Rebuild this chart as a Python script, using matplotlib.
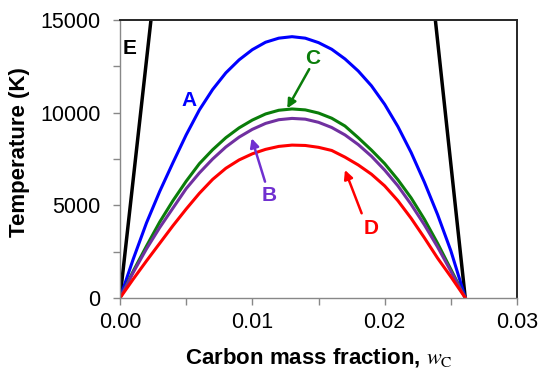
import matplotlib.pyplot as plt
from matplotlib.ticker import MultipleLocator, FormatStrFormatter

plt.rcParams['font.family'] = ['Liberation Sans', 'DejaVu Sans']
plt.rcParams['mathtext.fontset'] = 'stix'

# carbon mass fraction grid
w_grid = [0, 0.001, 0.002, 0.003, 0.004, 0.005, 0.006, 0.007, 0.008, 0.009,
          0.010, 0.011, 0.012, 0.013, 0.014, 0.015, 0.016, 0.017, 0.018,
          0.019, 0.020, 0.021, 0.022, 0.023, 0.024, 0.025, 0.0261]

# curve A (blue)
t_a = [0, 2100, 4050, 5750, 7300, 8800, 10150, 11250, 12150, 12850,
       13400, 13800, 14020, 14100, 14020, 13780, 13420, 12900, 12250,
       11450, 10450, 9250, 7850, 6250, 4500, 2550, 0]

# curve C (green)
t_c = [0, 1450, 2800, 4100, 5250, 6300, 7250, 8000, 8650, 9180,
       9600, 9930, 10130, 10200, 10150, 9980, 9700, 9280, 8650,
       7980, 7250, 6380, 5400, 4250, 2950, 1550, 0]

# curve B (purple)
t_b = [0, 1380, 2650, 3800, 4850, 5900, 6750, 7500, 8150, 8680,
       9100, 9420, 9620, 9690, 9650, 9480, 9200, 8800, 8280,
       7650, 6900, 6050, 5050, 3950, 2750, 1450, 0]

# curve D (red)
t_d = [0, 1020, 2000, 2950, 3900, 4800, 5650, 6400, 7000, 7450,
       7780, 8020, 8180, 8250, 8230, 8130, 7960, 7600, 7180,
       6680, 6050, 5250, 4300, 3250, 2150, 1150, 0]

# E lines (black)
w_e1 = [0, 0.00234]
t_e1 = [0, 15000]
w_e2 = [0.02383, 0.02609]
t_e2 = [15000, 0]

fig = plt.figure(figsize=(5.38, 3.70), dpi=100)
ax = fig.add_axes([120/538, 1-298/370, 397/538, 278/370])

ax.plot(w_e1, t_e1, color='black', lw=2.5)
ax.plot(w_e2, t_e2, color='black', lw=2.5)
ax.plot(w_grid, t_a, color='#0000FF', lw=2.2)
ax.plot(w_grid, t_c, color='#0A7D0A', lw=2.2)
ax.plot(w_grid, t_b, color='#7030A0', lw=2.2)
ax.plot(w_grid, t_d, color='#FF0000', lw=2.2)

ax.set_xlim(0, 0.03)
ax.set_ylim(0, 15000)
ax.xaxis.set_major_locator(MultipleLocator(0.01))
ax.xaxis.set_minor_locator(MultipleLocator(0.005))
ax.xaxis.set_major_formatter(FormatStrFormatter('%.2f'))
ax.yaxis.set_major_locator(MultipleLocator(5000))
ax.yaxis.set_minor_locator(MultipleLocator(2500))

ax.tick_params(which='both', direction='out', length=5, width=1, color='#888888',
               labelsize=15.5)
ax.tick_params(axis='y', pad=9)
ax.tick_params(axis='x', pad=5)
for s in ['left', 'bottom']:
    ax.spines[s].set_color('#888888')
    ax.spines[s].set_linewidth(1)
for s in ['top', 'right']:
    ax.spines[s].set_color('#262626')
    ax.spines[s].set_linewidth(1.4)

# axis titles
fig.text(318.5/538, 1-357.7/370, r'Carbon mass fraction, $w_{\mathrm{C}}$',
         ha='center', va='center', fontsize=16, fontweight='bold')
fig.text(20/538, 1-152/370, 'Temperature (K)', rotation=90,
         ha='center', va='center', fontsize=16, fontweight='bold')

# curve letters and arrows
lab = dict(fontsize=15, fontweight='bold', ha='center', va='center')
ax.text(0.00076, 13460, 'E', color='black', **lab)
ax.text(0.00521, 10640, 'A', color='#0000FF', **lab)

ax.annotate('', xy=(0.01264, 10235), xytext=(0.01430, 12350),
            arrowprops=dict(arrowstyle='-|>', color='#0A7D0A', lw=1.8,
                            mutation_scale=13, shrinkA=0, shrinkB=0))
ax.text(0.01455, 12932, 'C', color='#0A7D0A', **lab)

ax.annotate('', xy=(0.00995, 8617), xytext=(0.01096, 6277),
            arrowprops=dict(arrowstyle='-|>', color='#7030D0', lw=1.8,
                            mutation_scale=13, shrinkA=0, shrinkB=0))
ax.text(0.01126, 5515, 'B', color='#7030D0', **lab)

ax.annotate('', xy=(0.0170, 6907), xytext=(0.01826, 4570),
            arrowprops=dict(arrowstyle='-|>', color='#FF0000', lw=1.8,
                            mutation_scale=13, shrinkA=0, shrinkB=0))
ax.text(0.01895, 3758, 'D', color='#FF0000', **lab)

fig.savefig('out.png', dpi=100)
